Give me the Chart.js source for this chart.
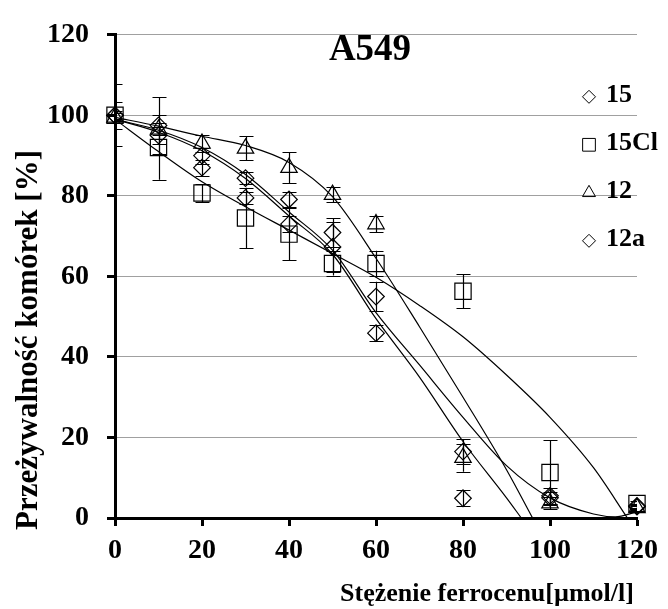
<!DOCTYPE html>
<html>
<head>
<meta charset="utf-8">
<script src="https://cdn.jsdelivr.net/npm/chart.js@4.4.0/dist/chart.umd.min.js"></script>
<style>
  body { margin: 0; background: #fff; }
  #wrap { width: 668px; height: 609px; }
</style>
</head>
<body>
<div id="wrap"><canvas id="chart" width="668" height="609"></canvas></div>
<script>
// measured points (mean +/- sd)
const doses = [0, 10, 20, 30, 40, 50, 60, 80, 100, 120];

const viab15 = [100, 97.5, 87, 79.5, 73, 67.3, 45.9, 4.9, 5, 3];
const err15 = [3.3, 7, 2, 1.5, 2, 6.3, 2, 2, 1.5, 0.5];

const viab15Cl = [100, 92, 80.7, 74.5, 70.5, 63.2, 63.2, 56.3, 11.3, 3.6];
const err15Cl = [7.7, 8, 2.2, 7.5, 6.5, 3, 3.2, 4.2, 8, 0.5];

const viab12 = [99.5, 96.5, 93, 91.8, 87, 80.3, 73, 15, 3.7, 2.5];
const err12 = [1, 1.5, 2, 3, 3.8, 1.8, 2, 3.5, 1.5, 0.5];

const viab12a = [100, 95, 90, 84.4, 79.1, 70.9, 55, 16.5, 5.5, 2.8];
const err12a = [1, 2, 2, 1.5, 1.9, 3.5, 3.7, 3, 2, 0.5];

// trend lines
const trendX15 = [0, 10, 20, 30, 40, 50, 60, 70, 80, 90, 93.4];
const trend15 = [99, 95.8, 91.2, 84.3, 75, 65.5, 49.5, 35, 19, 5, 0];

const trendX15Cl = [0, 10, 20, 30, 40, 50, 60, 70, 80, 90, 100, 110, 117.8];
const trend15Cl = [99, 91, 83.5, 77.3, 71.5, 65.7, 59.8, 52.8, 45, 35.5, 25, 12.5, 0];

const trendX12 = [0, 10, 20, 30, 40, 50, 60, 70, 80, 90, 96];
const trend12 = [99.5, 97.3, 94.8, 92.5, 88.3, 79.8, 64.5, 47.5, 30, 12, 0];

const trendX12a = [0, 10, 20, 30, 40, 50, 60, 70, 80, 90, 100, 110, 115, 120];
const trend12a = [99, 96.3, 92, 85.3, 76, 66.5, 51, 38, 25, 13, 5, 1, 0.3, 1.5];

const xTicks = [0, 20, 40, 60, 80, 100, 120];
const yTicks = [0, 20, 40, 60, 80, 100, 120];

const FONT = "'Liberation Serif', 'Times New Roman', serif";

function toPoints(xs, ys) {
  return xs.map((x, i) => ({ x: x, y: ys[i] }));
}

function trendSet(xs, ys) {
  return {
    data: toPoints(xs, ys),
    showLine: true,
    borderColor: "#000",
    borderWidth: 1.2,
    pointRadius: 0,
    fill: false,
    cubicInterpolationMode: "monotone",
  };
}

function markerSet(name, ys, errs, style, radius) {
  return {
    label: name,
    legendLabel: name,
    data: toPoints(doses, ys),
    errors: errs,
    showLine: false,
    pointStyle: style,
    pointRadius: radius,
    pointHoverRadius: radius,
    pointBorderWidth: 1.2,
    borderColor: "#000",
    backgroundColor: "rgba(0,0,0,0)",
    clip: false,
  };
}

const errorBars = {
  id: "errorBars",
  beforeDatasetsDraw(chart) {
    const ctx = chart.ctx;
    const area = chart.chartArea;
    const xs = chart.scales.x;
    const ys = chart.scales.y;
    ctx.save();
    ctx.beginPath();
    ctx.rect(area.left, area.top, area.right - area.left, area.bottom - area.top);
    ctx.clip();
    ctx.strokeStyle = "#000";
    ctx.lineWidth = 1.2;
    chart.data.datasets.forEach((ds) => {
      if (!ds.errors) return;
      ds.data.forEach((p, i) => {
        const e = ds.errors[i];
        const px = Math.round(xs.getPixelForValue(p.x)) + 0.5;
        const top = ys.getPixelForValue(p.y + e);
        const bot = ys.getPixelForValue(p.y - e);
        ctx.beginPath();
        ctx.moveTo(px, top);
        ctx.lineTo(px, bot);
        ctx.moveTo(px - 7, Math.round(top) + 0.5);
        ctx.lineTo(px + 7, Math.round(top) + 0.5);
        ctx.moveTo(px - 7, Math.round(bot) + 0.5);
        ctx.lineTo(px + 7, Math.round(bot) + 0.5);
        ctx.stroke();
      });
    });
    ctx.restore();
  },
};

const decorations = {
  id: "decorations",
  afterDraw(chart) {
    const ctx = chart.ctx;
    const area = chart.chartArea;
    ctx.save();
    ctx.fillStyle = "#000";

    // chart title
    ctx.font = "bold 37px " + FONT;
    ctx.textAlign = "center";
    ctx.textBaseline = "alphabetic";
    ctx.fillText("A549", area.left + 255, area.top + 25);

    // legend
    const items = chart.data.datasets.filter((ds) => ds.legendLabel);
    ctx.textAlign = "left";
    ctx.textBaseline = "middle";
    items.forEach((ds, i) => {
      const y = area.top + 60 + i * 48;
      ctx.strokeStyle = "#000";
      ctx.fillStyle = "rgba(0,0,0,0)";
      ctx.lineWidth = 1;
      const r = ds.pointStyle === "rect" ? 9 : ds.pointStyle === "triangle" ? 7.5 : 6.5;
      Chart.helpers.drawPoint(ctx, { pointStyle: ds.pointStyle, radius: r, rotation: 0, borderWidth: 1 }, area.right - 48, y + 2);
      ctx.fillStyle = "#000";
      ctx.font = "bold 26px " + FONT;
      ctx.fillText(ds.legendLabel, area.right - 31, y);
    });

    // axis titles
    ctx.fillStyle = "#000";
    ctx.font = "bold 26px " + FONT;
    ctx.textAlign = "center";
    ctx.textBaseline = "alphabetic";
    ctx.fillText("Stężenie ferrocenu[µmol/l]", 487, 601);

    ctx.translate(29, 340);
    ctx.rotate(-Math.PI / 2);
    ctx.font = "bold 31px " + FONT;
    ctx.textBaseline = "middle";
    ctx.fillText("Przeżywalność komórek [%]", 0, 0);
    ctx.restore();
  },
};

new Chart(document.getElementById("chart"), {
  type: "scatter",
  data: {
    datasets: [
      trendSet(trendX15, trend15),
      trendSet(trendX15Cl, trend15Cl),
      trendSet(trendX12, trend12),
      trendSet(trendX12a, trend12a),
      markerSet("15", viab15, err15, "rectRot", 8.3),
      markerSet("15Cl", viab15Cl, err15Cl, "rect", 11.5),
      markerSet("12", viab12, err12, "triangle", 9.5),
      markerSet("12a", viab12a, err12a, "rectRot", 8.3),
    ],
  },
  options: {
    responsive: false,
    animation: false,
    devicePixelRatio: 1,
    layout: { padding: { top: 28, right: 31, left: 0, bottom: 0 } },
    plugins: {
      legend: { display: false },
      tooltip: { enabled: false },
      title: { display: false },
    },
    scales: {
      x: {
        type: "linear",
        min: 0,
        max: 120,
        afterFit: (scale) => { scale.height = 91; },
        afterBuildTicks: (scale) => { scale.ticks = xTicks.map((v) => ({ value: v })); },
        ticks: {
          color: "#000",
          padding: 8,
          font: { family: FONT, size: 28, weight: "bold" },
        },
        grid: {
          drawOnChartArea: false,
          tickLength: 8,
          tickColor: "#000",
          tickWidth: 3,
        },
        border: { color: "#000", width: 3 },
      },
      y: {
        min: 0,
        max: 120,
        afterFit: (scale) => { scale.width = 115; },
        afterBuildTicks: (scale) => { scale.ticks = yTicks.map((v) => ({ value: v })); },
        ticks: {
          color: "#000",
          padding: 18,
          font: { family: FONT, size: 28, weight: "bold" },
        },
        grid: {
          color: "#a0a0a0",
          lineWidth: 1,
          tickLength: 8,
          tickColor: "#000",
          tickWidth: 3,
        },
        border: { color: "#000", width: 3 },
      },
    },
  },
  plugins: [errorBars, decorations],
});
</script>
</body>
</html>
